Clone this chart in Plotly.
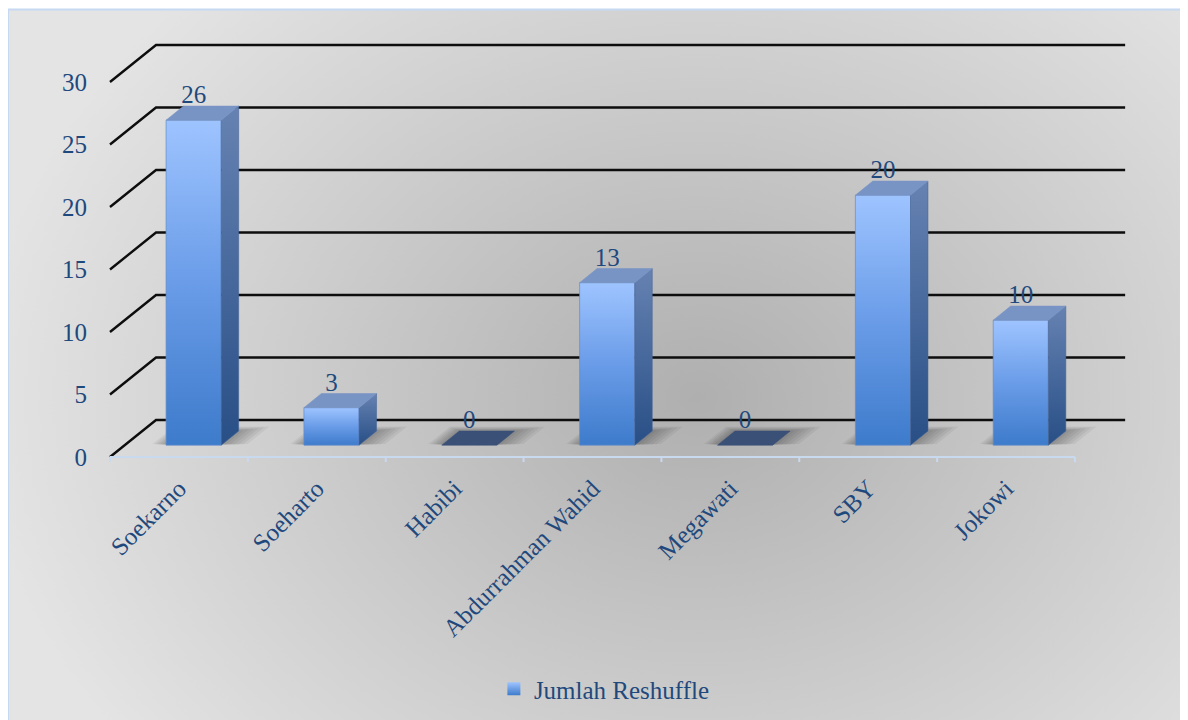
import base64
import plotly.graph_objects as go

# ---------------- data ----------------
categories = ["Soekarno", "Soeharto", "Habibi", "Abdurrahman Wahid", "Megawati", "SBY", "Jokowi"]
values = [26, 3, 0, 13, 0, 20, 10]
y_tick_values = [0, 5, 10, 15, 20, 25, 30]
series_name = "Jumlah Reshuffle"

# ---------------- geometry / style ----------------
W, H = 1188, 720
OFF = 8.0                          # page body margin compensation
AX_X0, AX_X1 = 110.0 - OFF, 1075.0 - OFF
AX_Y0 = 457.0 - OFF
PX_PER_UNIT = 12.5
n = len(categories)
PX_PER_CAT = (AX_X1 - AX_X0) / n

x_range = [-AX_X0 / PX_PER_CAT, (W - AX_X0) / PX_PER_CAT]
y_range = [-(H - AX_Y0) / PX_PER_UNIT, AX_Y0 / PX_PER_UNIT]

DEPTH_DX = 46 / PX_PER_CAT
DEPTH_DY = 37 / PX_PER_UNIT
BAR_W = 0.40
D0, D1 = 0.32, 0.70

FONT = "Liberation Serif"
FS = 25
TXT = "#1f497d"


def proj(c, v, d):
    return c + d * DEPTH_DX, v + d * DEPTH_DY


def poly(points):
    xs = [p[0] for p in points] + [points[0][0]]
    ys = [p[1] for p in points] + [points[0][1]]
    return xs, ys


traces = []

# back wall gridlines + side diagonals
gx, gy = [], []
for t in y_tick_values:
    for (c, d) in [(0, 0), (0, 1), (n + 0.03, 1)]:
        px_, py_ = proj(c, t, d)
        gx.append(px_)
        gy.append(py_)
    gx.append(None)
    gy.append(None)
traces.append(go.Scatter(x=gx, y=gy, mode="lines", line=dict(color="#0d0d0d", width=2.4),
                         hoverinfo="skip", showlegend=False))

# soft shadows on the floor
for i, v in enumerate(values):
    cc = i + 0.5
    for k in range(1, 7):
        c0 = cc - BAR_W / 2 - 0.018 * k
        c1 = cc + BAR_W / 2 + 0.03 * k
        da, db = D0 + 0.005 * k, D1 + 0.02 * k
        pts = [proj(c0, 0, da), proj(c1, 0, da), proj(c1, 0, db), proj(c0, 0, db)]
        xs, ys = poly(pts)
        traces.append(go.Scatter(x=xs, y=ys, mode="lines", fill="toself",
                                 fillcolor="rgba(40,40,40,0.065)", line=dict(width=0),
                                 hoverinfo="skip", showlegend=False))

# 3-D bars
for i, v in enumerate(values):
    cc = i + 0.5
    c0, c1 = cc - BAR_W / 2, cc + BAR_W / 2
    if v > 0:
        # front face
        xs, ys = poly([proj(c0, 0, D0), proj(c1, 0, D0), proj(c1, v, D0), proj(c0, v, D0)])
        traces.append(go.Scatter(x=xs, y=ys, mode="lines", fill="toself",
                                 fillgradient=dict(type="vertical",
                                                   colorscale=[[0, "#3d7bcb"], [0.5, "#6a9ce8"], [1, "#9ec4ff"]]),
                                 line=dict(width=0.8, color="rgba(100,140,200,0.9)"),
                                 hoverinfo="skip", showlegend=False))
        # side face
        xs, ys = poly([proj(c1, 0, D0), proj(c1, 0, D1), proj(c1, v, D1), proj(c1, v, D0)])
        traces.append(go.Scatter(x=xs, y=ys, mode="lines", fill="toself",
                                 fillgradient=dict(type="vertical",
                                                   colorscale=[[0, "#284f86"], [1, "#6682b2"]]),
                                 line=dict(width=0.6, color="rgba(70,100,150,0.9)"),
                                 hoverinfo="skip", showlegend=False))
    top_color = "#7894c4" if v > 0 else "#3a5077"
    xs, ys = poly([proj(c0, v, D0), proj(c1, v, D0), proj(c1, v, D1), proj(c0, v, D1)])
    traces.append(go.Scatter(x=xs, y=ys, mode="lines", fill="toself", fillcolor=top_color,
                             line=dict(width=0.6, color=top_color),
                             hoverinfo="skip", showlegend=False))

# front category axis line with boundary ticks
ax_x, ax_y = [], []
p_a, p_b = proj(0, 0, 0), proj(n, 0, 0)
ax_x += [p_a[0], p_b[0], None]
ax_y += [p_a[1], p_b[1], None]
tick_len_units = 5 / PX_PER_UNIT
for b in range(n + 1):
    ax_x += [b, b, None]
    ax_y += [0, -tick_len_units, None]
traces.append(go.Scatter(x=ax_x, y=ax_y, mode="lines", line=dict(color="#c9d9ee", width=2),
                         hoverinfo="skip", showlegend=False))

# data labels
lab_x = [proj(i + 0.5, v, D0)[0] for i, v in enumerate(values)]
lab_y = [proj(i + 0.5, v, D0)[1] + 1.85 for i, v in enumerate(values)]
traces.append(go.Scatter(x=lab_x, y=lab_y, mode="text", text=[str(v) for v in values],
                         textposition="middle center",
                         textfont=dict(family=FONT, size=FS, color=TXT),
                         hoverinfo="skip", showlegend=False))

# legend entry
traces.append(go.Scatter(x=[None], y=[None], mode="markers", name=series_name,
                         marker=dict(symbol="square", size=13, color="#9ec4ff",
                                     gradient=dict(type="vertical", color="#3d7bcb")),
                         showlegend=True))

fig = go.Figure(traces)

# background (gradient panel with thin border)
svg = f'''<svg xmlns="http://www.w3.org/2000/svg" width="{W}" height="{H}" viewBox="0 0 {W} {H}">
<defs><radialGradient id="g" gradientUnits="userSpaceOnUse" cx="690" cy="390" r="720"
 gradientTransform="translate(690 390) scale(1 0.8) translate(-690 -390)">
<stop offset="0" stop-color="#afafaf"/><stop offset="1" stop-color="#e4e4e4"/></radialGradient></defs>
<rect width="{W}" height="{H}" fill="#ffffff"/>
<rect x="0" y="1.5" width="{W + 4}" height="{H + 4}" fill="url(#g)" stroke="#c6d9f1" stroke-width="2"/>
</svg>'''
src = "data:image/svg+xml;base64," + base64.b64encode(svg.encode()).decode()

fig.update_layout(
    width=W, height=H, autosize=False,
    margin=dict(l=0, r=0, t=0, b=0),
    paper_bgcolor="white", plot_bgcolor="rgba(0,0,0,0)",
    images=[dict(source=src, xref="paper", yref="paper", x=0, y=1, sizex=1, sizey=1,
                 xanchor="left", yanchor="top", sizing="stretch", layer="below")],
    xaxis=dict(range=x_range, domain=[0, 1], anchor="free", position=(H - AX_Y0) / H,
               tickmode="array", tickvals=[i + 0.5 for i in range(n)], ticktext=categories,
               tickangle=-45, ticks="outside", ticklen=6, tickcolor="rgba(0,0,0,0)",
               tickfont=dict(family=FONT, size=FS, color=TXT),
               showgrid=False, zeroline=False, showline=False, fixedrange=True),
    yaxis=dict(range=y_range, domain=[0, 1], anchor="free", position=AX_X0 / W,
               tickmode="array", tickvals=y_tick_values,
               ticks="outside", ticklen=18, tickcolor="rgba(0,0,0,0)",
               tickfont=dict(family=FONT, size=FS, color=TXT),
               showgrid=False, zeroline=False, showline=False, fixedrange=True),
    showlegend=True,
    legend=dict(x=0.502, xanchor="center", y=(H - 681) / H, yanchor="middle",
                orientation="h", bgcolor="rgba(0,0,0,0)",
                font=dict(family=FONT, size=FS, color=TXT)),
)

fig.write_html("out.html")
